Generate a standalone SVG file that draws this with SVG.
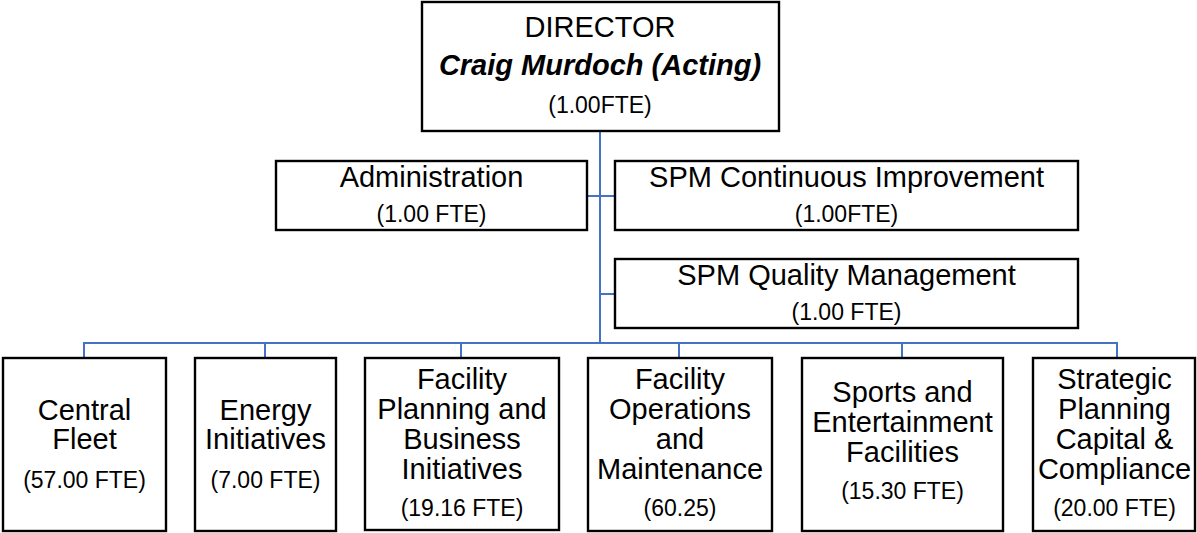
<svg xmlns="http://www.w3.org/2000/svg" width="1197" height="533" viewBox="0 0 1197 533">
<style>
.box{fill:#fff;stroke:#000;stroke-width:2.4}
.t{font-family:"Liberation Sans",Arial,sans-serif;font-size:29px;fill:#000;text-anchor:middle}
.f{font-family:"Liberation Sans",Arial,sans-serif;font-size:23px;fill:#000;text-anchor:middle}
.bi{font-weight:bold;font-style:italic}
.c{fill:none;stroke:#4472C4;stroke-width:2}
</style>
<rect width="1197" height="533" fill="#fff"/>
<g id="connectors">
<path class="c" d="M600 131V343"/>
<path class="c" d="M587 196H615"/>
<path class="c" d="M600 294H615"/>
<path class="c" d="M84 358V343H1117V358"/>
<path class="c" d="M265 343V358M461 343V358M679 343V358M902 343V358"/>
</g>
<g id="director">
<rect class="box" x="422" y="2" width="357" height="129"/>
<text class="t" x="600" y="37">DIRECTOR</text>
<text class="t bi" x="600" y="75">Craig Murdoch (Acting)</text>
<text class="f" x="600" y="113">(1.00FTE)</text>
</g>
<g id="administration">
<rect class="box" x="276" y="161" width="311" height="69"/>
<text class="t" x="431.5" y="187">Administration</text>
<text class="f" x="431.5" y="222">(1.00 FTE)</text>
</g>
<g id="spm-ci">
<rect class="box" x="615" y="161" width="463" height="69"/>
<text class="t" x="846.5" y="187">SPM Continuous Improvement</text>
<text class="f" x="846.5" y="222">(1.00FTE)</text>
</g>
<g id="spm-qm">
<rect class="box" x="615" y="259" width="463" height="69"/>
<text class="t" x="846.5" y="285">SPM Quality Management</text>
<text class="f" x="846.5" y="320">(1.00 FTE)</text>
</g>
<g id="central-fleet">
<rect class="box" x="3" y="358" width="163" height="173"/>
<text class="t" x="84.5" y="420">Central</text>
<text class="t" x="84.5" y="449">Fleet</text>
<text class="f" x="84.5" y="488">(57.00 FTE)</text>
</g>
<g id="energy">
<rect class="box" x="195" y="358" width="141" height="173"/>
<text class="t" x="265.5" y="420">Energy</text>
<text class="t" x="265.5" y="449">Initiatives</text>
<text class="f" x="265.5" y="488">(7.00 FTE)</text>
</g>
<g id="facility-planning">
<rect class="box" x="365" y="358" width="194" height="172"/>
<text class="t" x="462" y="389">Facility</text>
<text class="t" x="462" y="419">Planning and</text>
<text class="t" x="462" y="449">Business</text>
<text class="t" x="462" y="479">Initiatives</text>
<text class="f" x="462" y="516">(19.16 FTE)</text>
</g>
<g id="facility-operations">
<rect class="box" x="588" y="358" width="184" height="173"/>
<text class="t" x="680" y="389">Facility</text>
<text class="t" x="680" y="419">Operations</text>
<text class="t" x="680" y="449">and</text>
<text class="t" x="680" y="479">Maintenance</text>
<text class="f" x="680" y="516">(60.25)</text>
</g>
<g id="sports">
<rect class="box" x="802" y="358" width="201" height="173"/>
<text class="t" x="902.5" y="402">Sports and</text>
<text class="t" x="902.5" y="432">Entertainment</text>
<text class="t" x="902.5" y="462">Facilities</text>
<text class="f" x="902.5" y="499">(15.30 FTE)</text>
</g>
<g id="strategic">
<rect class="box" x="1033" y="358" width="162" height="173"/>
<text class="t" x="1114.5" y="389">Strategic</text>
<text class="t" x="1114.5" y="419">Planning</text>
<text class="t" x="1114.5" y="449">Capital &amp;</text>
<text class="t" x="1114.5" y="479">Compliance</text>
<text class="f" x="1114.5" y="516">(20.00 FTE)</text>
</g>
</svg>
